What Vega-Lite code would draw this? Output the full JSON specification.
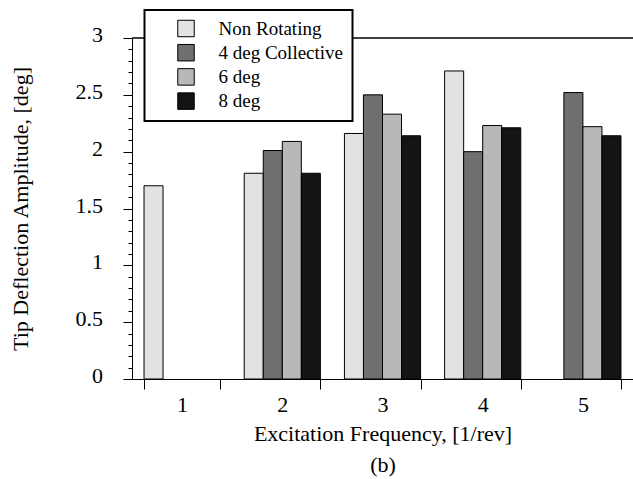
{
  "$schema": "https://vega.github.io/schema/vega-lite/v6.json",
  "width": 501,
  "height": 341,
  "autosize": {"type": "none"},
  "padding": {"left": 132, "top": 38, "right": 0, "bottom": 100},
  "background": "white",
  "config": {
    "view": {"stroke": null},
    "font": "Liberation Serif",
    "axis": {"grid": false, "domainColor": "black", "tickColor": "black", "labelColor": "black", "titleColor": "black", "titleFontWeight": "normal"},
    "legend": {"strokeWidth": 2}
  },
  "data": {
    "values": [
      {"freq": "1", "series": "Non Rotating", "amp": 1.70},
      {"freq": "2", "series": "Non Rotating", "amp": 1.81},
      {"freq": "2", "series": "4 deg Collective", "amp": 2.01},
      {"freq": "2", "series": "6 deg", "amp": 2.09},
      {"freq": "2", "series": "8 deg", "amp": 1.81},
      {"freq": "3", "series": "Non Rotating", "amp": 2.16},
      {"freq": "3", "series": "4 deg Collective", "amp": 2.50},
      {"freq": "3", "series": "6 deg", "amp": 2.33},
      {"freq": "3", "series": "8 deg", "amp": 2.14},
      {"freq": "4", "series": "Non Rotating", "amp": 2.71},
      {"freq": "4", "series": "4 deg Collective", "amp": 2.00},
      {"freq": "4", "series": "6 deg", "amp": 2.23},
      {"freq": "4", "series": "8 deg", "amp": 2.21},
      {"freq": "5", "series": "4 deg Collective", "amp": 2.52},
      {"freq": "5", "series": "6 deg", "amp": 2.22},
      {"freq": "5", "series": "8 deg", "amp": 2.14}
    ]
  },
  "layer": [
    {
      "mark": {"type": "bar", "stroke": "black", "strokeWidth": 1},
      "encoding": {
        "x": {
          "field": "freq",
          "type": "nominal",
          "scale": {"paddingInner": 0.24, "paddingOuter": 0.12},
          "axis": {
            "labelAngle": 0,
            "tickBand": "extent",
            "tickSize": 10,
            "labelPadding": 22,
            "labelBaseline": "alphabetic",
            "labelFontSize": 22,
            "title": ["Excitation Frequency, [1/rev]", "(b)"],
            "titleFontSize": 22,
            "titleBaseline": "alphabetic",
            "titleY": 61,
            "titleLineHeight": 31
          }
        },
        "xOffset": {
          "field": "series",
          "type": "nominal",
          "scale": {"domain": ["Non Rotating", "4 deg Collective", "6 deg", "8 deg"], "paddingInner": 0, "paddingOuter": 0}
        },
        "y": {
          "field": "amp",
          "type": "quantitative",
          "scale": {"domain": [0, 3], "nice": false},
          "axis": {
            "values": [0, 0.5, 1, 1.5, 2, 2.5, 3],
            "format": "~g",
            "tickSize": 9,
            "labelPadding": 20.5,
            "labelFontSize": 22,
            "labelBaseline": "alphabetic",
            "labelOffset": 3.5,
            "title": "Tip Deflection Amplitude, [deg]",
            "titleFontSize": 22,
            "titleX": -100
          }
        },
        "fill": {
          "field": "series",
          "type": "nominal",
          "scale": {"domain": ["Non Rotating", "4 deg Collective", "6 deg", "8 deg"], "range": ["#e2e2e2", "#6f6f6f", "#b8b8b8", "#141414"]},
          "legend": {
            "orient": "none",
            "legendX": 12.5,
            "legendY": -28,
            "title": null,
            "symbolType": "square",
            "symbolSize": 272,
            "symbolStrokeColor": "black",
            "symbolStrokeWidth": 1,
            "labelFontSize": 19,
            "labelColor": "black",
            "labelOffset": 23,
            "symbolOffset": 23,
            "padding": 9,
            "rowPadding": 3.2,
            "strokeColor": "black",
            "fillColor": "white",
            "labelLimit": 300
          }
        }
      }
    },
    {
      "data": {"values": [{}]},
      "mark": {"type": "rule", "color": "black", "strokeWidth": 1.5},
      "encoding": {
        "y": {
          "datum": 3,
          "type": "quantitative",
          "axis": {
            "orient": "left",
            "values": [0, 0.1, 0.2, 0.3, 0.4, 0.5, 0.6, 0.7, 0.8, 0.9, 1, 1.1, 1.2, 1.3, 1.4, 1.5, 1.6, 1.7, 1.8, 1.9, 2, 2.1, 2.2, 2.3, 2.4, 2.5, 2.6, 2.7, 2.8, 2.9, 3],
            "labels": false,
            "tickSize": 4,
            "domain": false,
            "title": null
          }
        }
      }
    }
  ],
  "resolve": {"axis": {"y": "independent"}}
}
